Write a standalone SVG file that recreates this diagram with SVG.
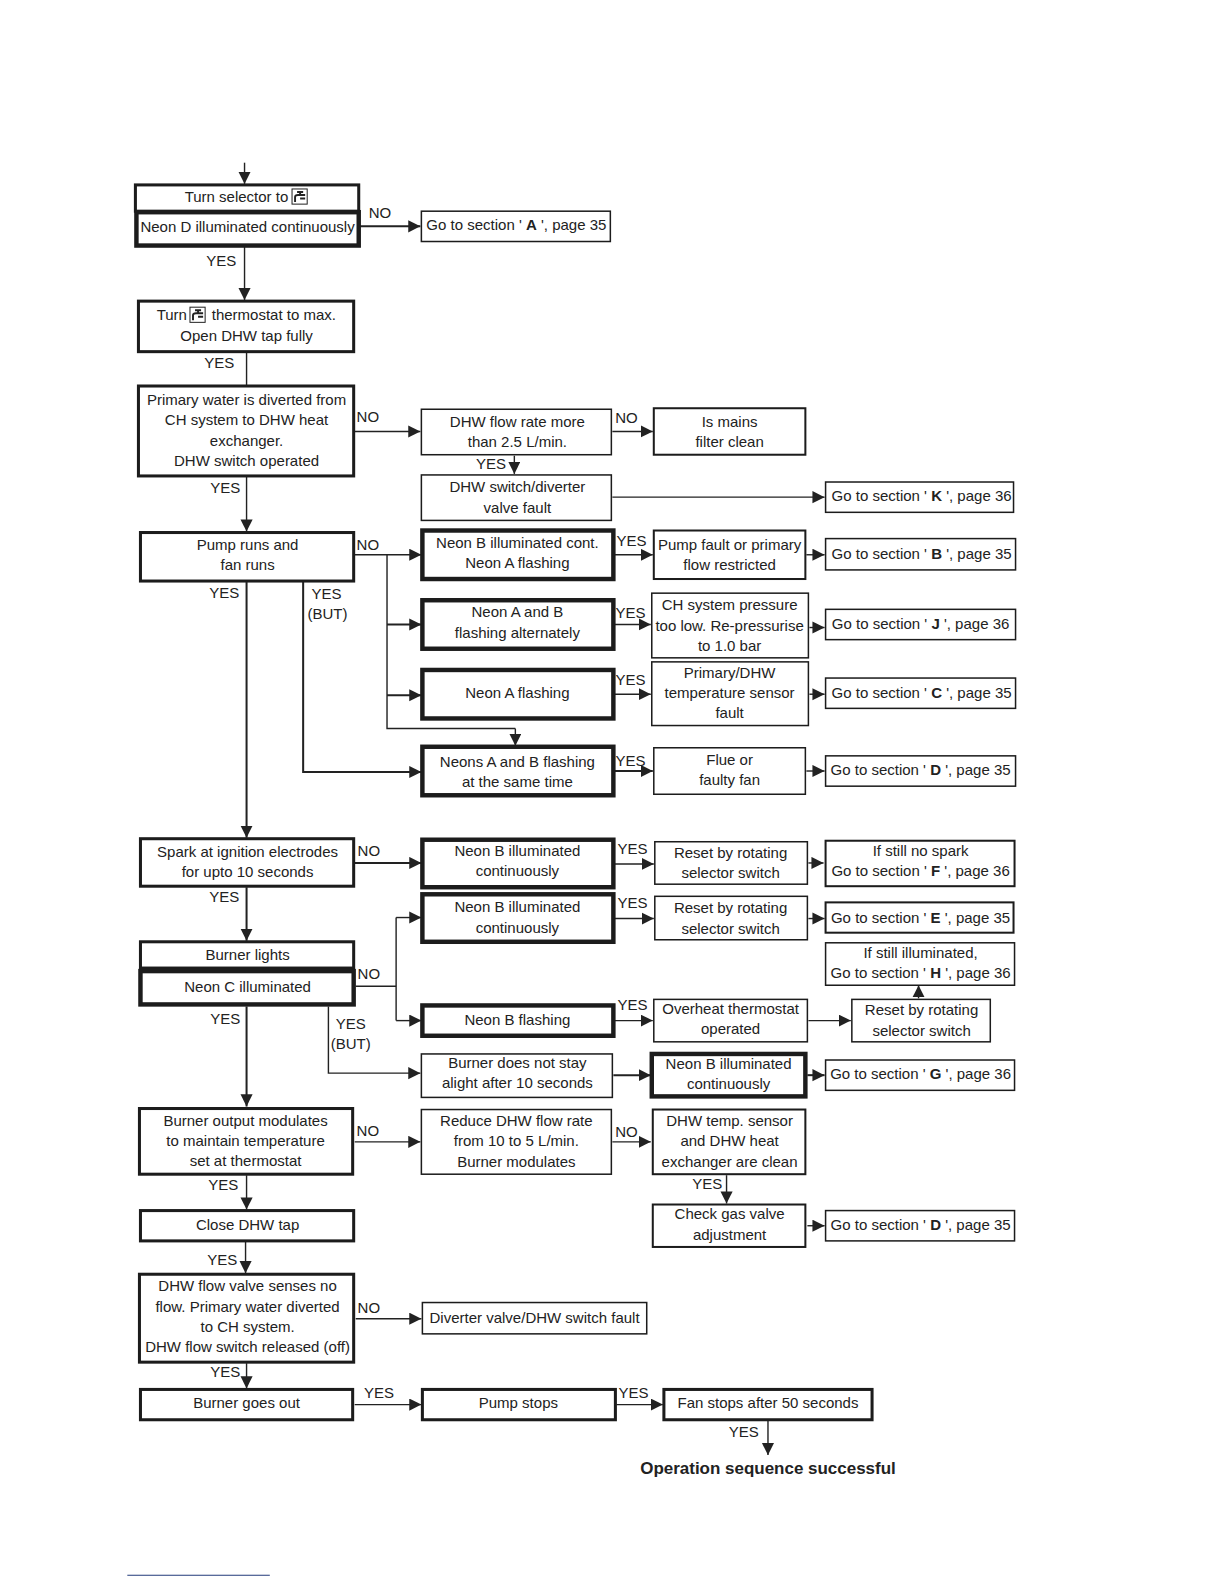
<svg xmlns="http://www.w3.org/2000/svg" width="1224" height="1584" viewBox="0 0 1224 1584">
<style>
text{font-family:"Liberation Sans",Arial,sans-serif;font-size:14.85px;fill:#222;text-anchor:middle}
.box{fill:#fff;stroke:#1c1c1c}
.t1{stroke-width:1.5px}.t2{stroke-width:2px}.t3{stroke-width:3px}.t4{stroke-width:4.4px}
#connectors path{fill:none;stroke:#222;stroke-width:1.4px;marker-end:url(#a)}
#connectors path.n{marker-end:none}
#connectors path.w{stroke-width:2px}
.b{font-weight:bold}
.tap{fill:#fff;stroke:#222;stroke-width:1px}
.tp{fill:none;stroke:#222;stroke-width:1.9px}
</style>
<defs>
<marker id="a" markerUnits="userSpaceOnUse" markerWidth="13" markerHeight="13" refX="12" refY="6" orient="auto"><path d="M0 0L12 6L0 12Z" fill="#222"/></marker>
<g id="tapicon"><rect class="tap" x="0" y="0" width="15" height="15"/><path class="tp" d="M3 13V8Q3 6 6 6H13M8 3V6M5 3H11M8 9.5H13"/></g>
</defs>
<rect width="1224" height="1584" fill="#fff"/>
<g transform="scale(1.0105)">
<g id="connectors">
<path d="M242 161V182"/>
<path class="w" d="M356 224H416"/>
<path d="M242 244V297"/>
<path class="n" d="M244 349V381"/>
<path d="M351 427H416"/>
<path d="M606 427H646"/>
<path d="M509 451V469"/>
<path d="M606 492H816"/>
<path d="M244 472V526"/>
<path d="M351 549H417"/>
<path class="n" d="M383 549V721H510"/>
<path class="w" d="M383 618H417"/>
<path class="w" d="M383 688H417"/>
<path d="M510 721V738"/>
<path class="w" d="M244 576V829"/>
<path class="w" d="M300 576V764H417"/>
<path d="M608 549H646"/>
<path d="M798 549H816"/>
<path d="M608 618H644"/>
<path d="M801 621H816"/>
<path d="M608 687H644"/>
<path d="M801 687H816"/>
<path class="w" d="M608 763H646"/>
<path d="M798 763H816"/>
<path class="w" d="M351 854H417"/>
<path d="M608 855H647"/>
<path d="M800 854H815"/>
<path class="w" d="M244 878V931"/>
<path d="M608 909H647"/>
<path d="M800 909H816"/>
<path class="n" d="M352 976H392"/>
<path class="n" d="M392 908V1010"/>
<path d="M392 908H417"/>
<path d="M392 1010H417"/>
<path d="M608 1010H646"/>
<path d="M800 1010H842"/>
<path d="M909 988V975"/>
<path class="w" d="M244 996V1095"/>
<path d="M325 996V1062H416"/>
<path class="w" d="M607 1064H644"/>
<path class="w" d="M799 1064H816"/>
<path d="M351 1130H416"/>
<path d="M606 1130H644"/>
<path d="M719 1163V1191"/>
<path d="M799 1213H816"/>
<path d="M244 1163V1197"/>
<path d="M243 1229V1260"/>
<path d="M352 1305H417"/>
<path d="M244 1349V1374"/>
<path d="M351 1390H417"/>
<path d="M610 1390H656"/>
<path d="M760 1406V1440"/>
</g>
<g id="n1"><rect class="box t3" x="134" y="183" width="221" height="26"/><text x="234" y="200">Turn selector to</text><use href="#tapicon" x="289" y="187"/></g>
<g id="n2"><rect class="box t4" x="135" y="210" width="220" height="33"/><text x="245" y="230">Neon D illuminated continuously</text></g>
<g id="n3"><rect class="box t1" x="417" y="209" width="187" height="30"/><text x="511" y="228">Go to section ' <tspan class="b">A</tspan> ', page 35</text></g>
<g id="n4"><rect class="box t3" x="137" y="298" width="213" height="50"/><text x="170" y="317">Turn</text><use href="#tapicon" x="188" y="304"/><text x="271" y="317">thermostat to max.</text><text x="244" y="337">Open DHW tap fully</text></g>
<g id="n5"><rect class="box t3" x="137" y="382" width="213" height="89"/><text x="244" y="401">Primary water is diverted from</text><text x="244" y="421">CH system to DHW heat</text><text x="244" y="441">exchanger.</text><text x="244" y="461">DHW switch operated</text></g>
<g id="n6"><rect class="box t1" x="417" y="405" width="188" height="45"/><text x="512" y="422.500">DHW flow rate more</text><text x="512" y="442">than 2.5 L/min.</text></g>
<g id="n7"><rect class="box t2" x="647" y="404" width="150" height="46"/><text x="722" y="423">Is mains</text><text x="722" y="442">filter clean</text></g>
<g id="n8"><rect class="box t1" x="417" y="470" width="188" height="45"/><text x="512" y="487">DHW switch/diverter</text><text x="512" y="508">valve fault</text></g>
<g id="n9"><rect class="box t1" x="817" y="477" width="186" height="30"/><text x="912" y="496">Go to section ' <tspan class="b">K</tspan> ', page 36</text></g>
<g id="n10"><rect class="box t3" x="139" y="527" width="211" height="48"/><text x="245" y="544">Pump runs and</text><text x="245" y="564">fan runs</text></g>
<g id="n11"><rect class="box t4" x="418" y="525" width="189" height="48"/><text x="512" y="542">Neon B illuminated cont.</text><text x="512" y="562">Neon A flashing</text></g>
<g id="n12"><rect class="box t2" x="647" y="525" width="150" height="48"/><text x="722" y="544">Pump fault or primary</text><text x="722" y="564">flow restricted</text></g>
<g id="n13"><rect class="box t1" x="817" y="533" width="188" height="31"/><text x="912" y="553">Go to section ' <tspan class="b">B</tspan> ', page 35</text></g>
<g id="n14"><rect class="box t4" x="418" y="594" width="189" height="48"/><text x="512" y="611">Neon A and B</text><text x="512" y="631">flashing alternately</text></g>
<g id="n15"><rect class="box t1" x="645" y="587" width="155" height="64"/><text x="722" y="604">CH system pressure</text><text x="722" y="624">too low. Re-pressurise</text><text x="722" y="644">to 1.0 bar</text></g>
<g id="n16"><rect class="box t1" x="817" y="603" width="188" height="30"/><text x="911" y="622">Go to section ' <tspan class="b">J</tspan> ', page 36</text></g>
<g id="n17"><rect class="box t4" x="418" y="663" width="189" height="48"/><text x="512" y="691">Neon A flashing</text></g>
<g id="n18"><rect class="box t1" x="645" y="655" width="155" height="63"/><text x="722" y="671">Primary/DHW</text><text x="722" y="691">temperature sensor</text><text x="722" y="711">fault</text></g>
<g id="n19"><rect class="box t1" x="817" y="671" width="188" height="30"/><text x="912" y="691">Go to section ' <tspan class="b">C</tspan> ', page 35</text></g>
<g id="n20"><rect class="box t4" x="418" y="739" width="189" height="48"/><text x="512" y="759">Neons A and B flashing</text><text x="512" y="779">at the same time</text></g>
<g id="n21"><rect class="box t1" x="647" y="740" width="150" height="46"/><text x="722" y="757">Flue or</text><text x="722" y="777">faulty fan</text></g>
<g id="n22"><rect class="box t1" x="817" y="748" width="188" height="30"/><text x="911" y="767">Go to section ' <tspan class="b">D</tspan> ', page 35</text></g>
<g id="n23"><rect class="box t3" x="139" y="830" width="211" height="47"/><text x="245" y="848">Spark at ignition electrodes</text><text x="245" y="868">for upto 10 seconds</text></g>
<g id="n24"><rect class="box t4" x="418" y="831" width="189" height="47"/><text x="512" y="847">Neon B illuminated</text><text x="512" y="867">continuously</text></g>
<g id="n25"><rect class="box t1" x="648" y="833" width="151" height="42"/><text x="723" y="849">Reset by rotating</text><text x="723" y="869">selector switch</text></g>
<g id="n26"><rect class="box t2" x="817" y="832" width="187" height="45"/><text x="911" y="847">If still no spark</text><text x="911" y="867">Go to section ' <tspan class="b">F</tspan> ', page 36</text></g>
<g id="n27"><rect class="box t4" x="418" y="885" width="189" height="47"/><text x="512" y="903">Neon B illuminated</text><text x="512" y="923">continuously</text></g>
<g id="n28"><rect class="box t1" x="648" y="887" width="151" height="43"/><text x="723" y="904">Reset by rotating</text><text x="723" y="924">selector switch</text></g>
<g id="n29"><rect class="box t2" x="817" y="893" width="186" height="30"/><text x="911" y="913">Go to section ' <tspan class="b">E</tspan> ', page 35</text></g>
<g id="n30"><rect class="box t3" x="139" y="932" width="211" height="26"/><text x="245" y="950">Burner lights</text></g>
<g id="n31"><rect class="box t4" x="139" y="961" width="211" height="33"/><text x="245" y="982">Neon C illuminated</text></g>
<g id="n32"><rect class="box t1" x="817" y="933" width="187" height="42"/><text x="911" y="948">If still illuminated,</text><text x="911" y="968">Go to section ' <tspan class="b">H</tspan> ', page 36</text></g>
<g id="n33"><rect class="box t4" x="418" y="995" width="189" height="30"/><text x="512" y="1014">Neon B flashing</text></g>
<g id="n34"><rect class="box t1" x="647" y="989" width="152" height="42"/><text x="723" y="1003">Overheat thermostat</text><text x="723" y="1023">operated</text></g>
<g id="n35"><rect class="box t1" x="843" y="989" width="137" height="42"/><text x="912" y="1004">Reset by rotating</text><text x="912" y="1025">selector switch</text></g>
<g id="n36"><rect class="box t1" x="417" y="1043" width="189" height="43"/><text x="512" y="1057">Burner does not stay</text><text x="512" y="1077">alight after 10 seconds</text></g>
<g id="n37"><rect class="box t4" x="645" y="1043" width="152" height="42"/><text x="721" y="1058">Neon B illuminated</text><text x="721" y="1078">continuously</text></g>
<g id="n38"><rect class="box t1" x="817" y="1049" width="187" height="30"/><text x="911" y="1068">Go to section ' <tspan class="b">G</tspan> ', page 36</text></g>
<g id="n39"><rect class="box t3" x="138" y="1097" width="211" height="65"/><text x="243" y="1114">Burner output modulates</text><text x="243" y="1134">to maintain temperature</text><text x="243" y="1154">set at thermostat</text></g>
<g id="n40"><rect class="box t1" x="417" y="1098" width="188" height="64"/><text x="511" y="1114">Reduce DHW flow rate</text><text x="511" y="1134">from 10 to 5 L/min.</text><text x="511" y="1155">Burner modulates</text></g>
<g id="n41"><rect class="box t2" x="646" y="1098" width="151" height="64"/><text x="722" y="1114">DHW temp. sensor</text><text x="722" y="1134">and DHW heat</text><text x="722" y="1155">exchanger are clean</text></g>
<g id="n42"><rect class="box t3" x="139" y="1198" width="211" height="30"/><text x="245" y="1217">Close DHW tap</text></g>
<g id="n43"><rect class="box t2" x="646" y="1192" width="151" height="42"/><text x="722" y="1206">Check gas valve</text><text x="722" y="1227">adjustment</text></g>
<g id="n44"><rect class="box t1" x="817" y="1198" width="187" height="30"/><text x="911" y="1217">Go to section ' <tspan class="b">D</tspan> ', page 35</text></g>
<g id="n45"><rect class="box t3" x="138" y="1261" width="212" height="87"/><text x="245" y="1278">DHW flow valve senses no</text><text x="245" y="1298">flow. Primary water diverted</text><text x="245" y="1318">to CH system.</text><text x="245" y="1338">DHW flow switch released (off)</text></g>
<g id="n46"><rect class="box t1" x="418" y="1289" width="222" height="31"/><text x="529" y="1309">Diverter valve/DHW switch fault</text></g>
<g id="n47"><rect class="box t3" x="139" y="1375" width="210" height="30"/><text x="244" y="1393">Burner goes out</text></g>
<g id="n48"><rect class="box t3" x="418" y="1375" width="191" height="30"/><text x="513" y="1393">Pump stops</text></g>
<g id="n49"><rect class="box t3" x="657" y="1375" width="206" height="30"/><text x="760" y="1393">Fan stops after 50 seconds</text></g>
<g id="labels">
<text x="376" y="216">NO</text><text x="219" y="263">YES</text><text x="217" y="364">YES</text><text x="364" y="418">NO</text><text x="620" y="419">NO</text><text x="486" y="464">YES</text><text x="223" y="488">YES</text><text x="364" y="544">NO</text><text x="625" y="540">YES</text><text x="222" y="592">YES</text><text x="323" y="593">YES</text><text x="324" y="613">(BUT)</text><text x="624" y="612">YES</text><text x="624" y="678">YES</text><text x="624" y="758">YES</text><text x="365" y="847">NO</text><text x="626" y="845">YES</text><text x="222" y="893">YES</text><text x="626" y="899">YES</text><text x="365" y="969">NO</text><text x="626" y="1000">YES</text><text x="223" y="1013">YES</text><text x="347" y="1018">YES</text><text x="347" y="1038">(BUT)</text><text x="364" y="1124">NO</text><text x="620" y="1125">NO</text><text x="700" y="1177">YES</text><text x="221" y="1178">YES</text><text x="220" y="1252">YES</text><text x="365" y="1299">NO</text><text x="223" y="1363">YES</text><text x="375" y="1383">YES</text><text x="627" y="1383">YES</text><text x="736" y="1422">YES</text>
<text class="b" x="760" y="1459" style="font-size:16.8px">Operation sequence successful</text>
</g>
<path d="M126 1559H267" stroke="#223a7a" stroke-width="1" fill="none"/>
</g>
</svg>
